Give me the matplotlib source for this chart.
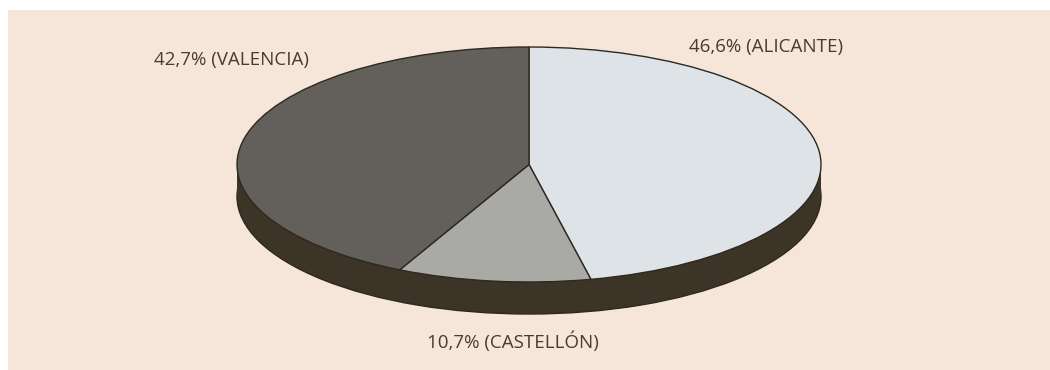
import matplotlib
matplotlib.use("Agg")
import matplotlib.pyplot as plt

labels = ["46,6% (ALICANTE)", "10,7% (CASTELLÓN)", "42,7% (VALENCIA)"]
shares = [46.6, 10.7, 42.7]
colors = ["#dde3e6", "#a9a9a5", "#63605b"]

W, H = 1050, 370
fig = plt.figure(figsize=(W / 100, H / 100), dpi=100, facecolor="white")
bg = fig.add_axes([8 / W, 0, 1 - 8 / W, 1 - 10 / H])
bg.set_facecolor("#f6e5d9")
bg.set_xticks([]); bg.set_yticks([])
for s in bg.spines.values():
    s.set_visible(False)

ax = fig.add_axes([0, 0, 1, 1])
ax.set_facecolor("none")
ax.axis("off")

# pixel geometry of ellipse (a horizontal, b vertical)
cx, cy, a, b, depth = 529, 164.5, 292, 117.5, 32
d = depth / b
side = "#3d3428"
edge = "#2e2820"

# side band (bottom ellipse + connecting body)
ax.pie([1], radius=1, center=(0, -d), colors=[side],
       wedgeprops=dict(edgecolor=edge, linewidth=1.0))
ax.fill_between([-1, 1], [-d, -d], [0, 0], color=side, zorder=1, linewidth=0)
# top face
ax.pie(shares, startangle=90, counterclock=False, radius=1, center=(0, 0), colors=colors,
       wedgeprops=dict(edgecolor=edge, linewidth=1.0))

ax.set_aspect("auto")
ax.set_xlim(-cx / a, (W - cx) / a)
ax.set_ylim(-(H - cy) / b, cy / b)

font = dict(family="Open Sans", fontsize=13.5, color="#463c33", ha="center", va="center")
pos = [(766, 47), (513, 342), (231, 60)]
for lab, (px, py) in zip(labels, pos):
    fig.text(px / W, 1 - py / H, lab, **font)

fig.savefig("out.png", dpi=100, facecolor="white")
